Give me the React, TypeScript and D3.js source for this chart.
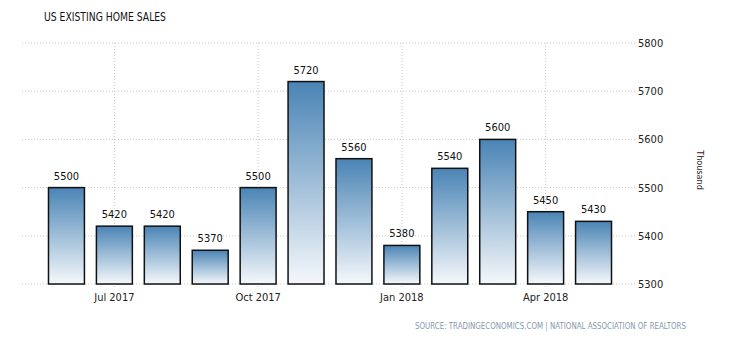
import React from "react";
import * as d3 from "d3";

const months = ["Jun 2017","Jul 2017","Aug 2017","Sep 2017","Oct 2017","Nov 2017","Dec 2017","Jan 2018","Feb 2018","Mar 2018","Apr 2018","May 2018"];
const sales = [5500, 5420, 5420, 5370, 5500, 5720, 5560, 5380, 5540, 5600, 5450, 5430];
const xTickLabels = ["Jul 2017", "Oct 2017", "Jan 2018", "Apr 2018"];
const yTicks = [5300, 5400, 5500, 5600, 5700, 5800];

const W = 730, H = 340;
const FONT = "'DejaVu Sans Condensed', 'DejaVu Sans', sans-serif";

export default function App() {
  const x = d3.scaleBand<string>().domain(months).range([42.5, 617.5]).paddingInner(0.25).paddingOuter(0.125);
  const y = d3.scaleLinear().domain([5300, 5800]).range([284, 43]);
  const gridLeft = 22, gridRight = 637;

  return (
    <svg width={W} height={H} style={{ position: "absolute", left: 0, top: 0 }} fontFamily={FONT}>
      <defs>
        <linearGradient id="barGrad" x1="0" y1="0" x2="0" y2="1">
          <stop offset="0" stopColor="#4a84b5" />
          <stop offset="1" stopColor="#f5f8fb" />
        </linearGradient>
      </defs>
      <rect width={W} height={H} fill="#fff" />
      <text x={44} y={21} fontSize={11.5} fill="#111" textLength={122} lengthAdjust="spacingAndGlyphs">US EXISTING HOME SALES</text>

      {yTicks.map((t) => (
        <g key={t}>
          <line x1={gridLeft} x2={gridRight} y1={y(t)} y2={y(t)} stroke="#c8c8c8" strokeDasharray="1,2" />
          <text x={638} y={y(t) + 4} fontSize={11} fill="#222">{t}</text>
        </g>
      ))}
      {xTickLabels.map((m) => {
        const cx = (x(m) as number) + x.bandwidth() / 2;
        return (
          <g key={m}>
            <line x1={cx} x2={cx} y1={y(5800)} y2={288} stroke="#c8c8c8" strokeDasharray="1,2" />
            <text x={cx} y={301} fontSize={11} fill="#222" textAnchor="middle">{m}</text>
          </g>
        );
      })}

      {months.map((m, i) => {
        const x0 = x(m) as number;
        const top = y(sales[i]);
        return (
          <g key={m}>
            <rect x={x0} y={top} width={x.bandwidth()} height={y(5300) - top} fill="url(#barGrad)" stroke="#111" strokeWidth={1.5} />
            <text x={x0 + x.bandwidth() / 2} y={top - 8} fontSize={11} fill="#111" textAnchor="middle">{sales[i]}</text>
          </g>
        );
      })}

      <text transform={`translate(697,170) rotate(90)`} fontSize={9} fill="#222" textAnchor="middle">Thousand</text>
      <text x={415} y={329} fontSize={8.5} fill="#8797ad" textLength={271} lengthAdjust="spacingAndGlyphs">SOURCE: TRADINGECONOMICS.COM | NATIONAL ASSOCIATION OF REALTORS</text>
    </svg>
  );
}
